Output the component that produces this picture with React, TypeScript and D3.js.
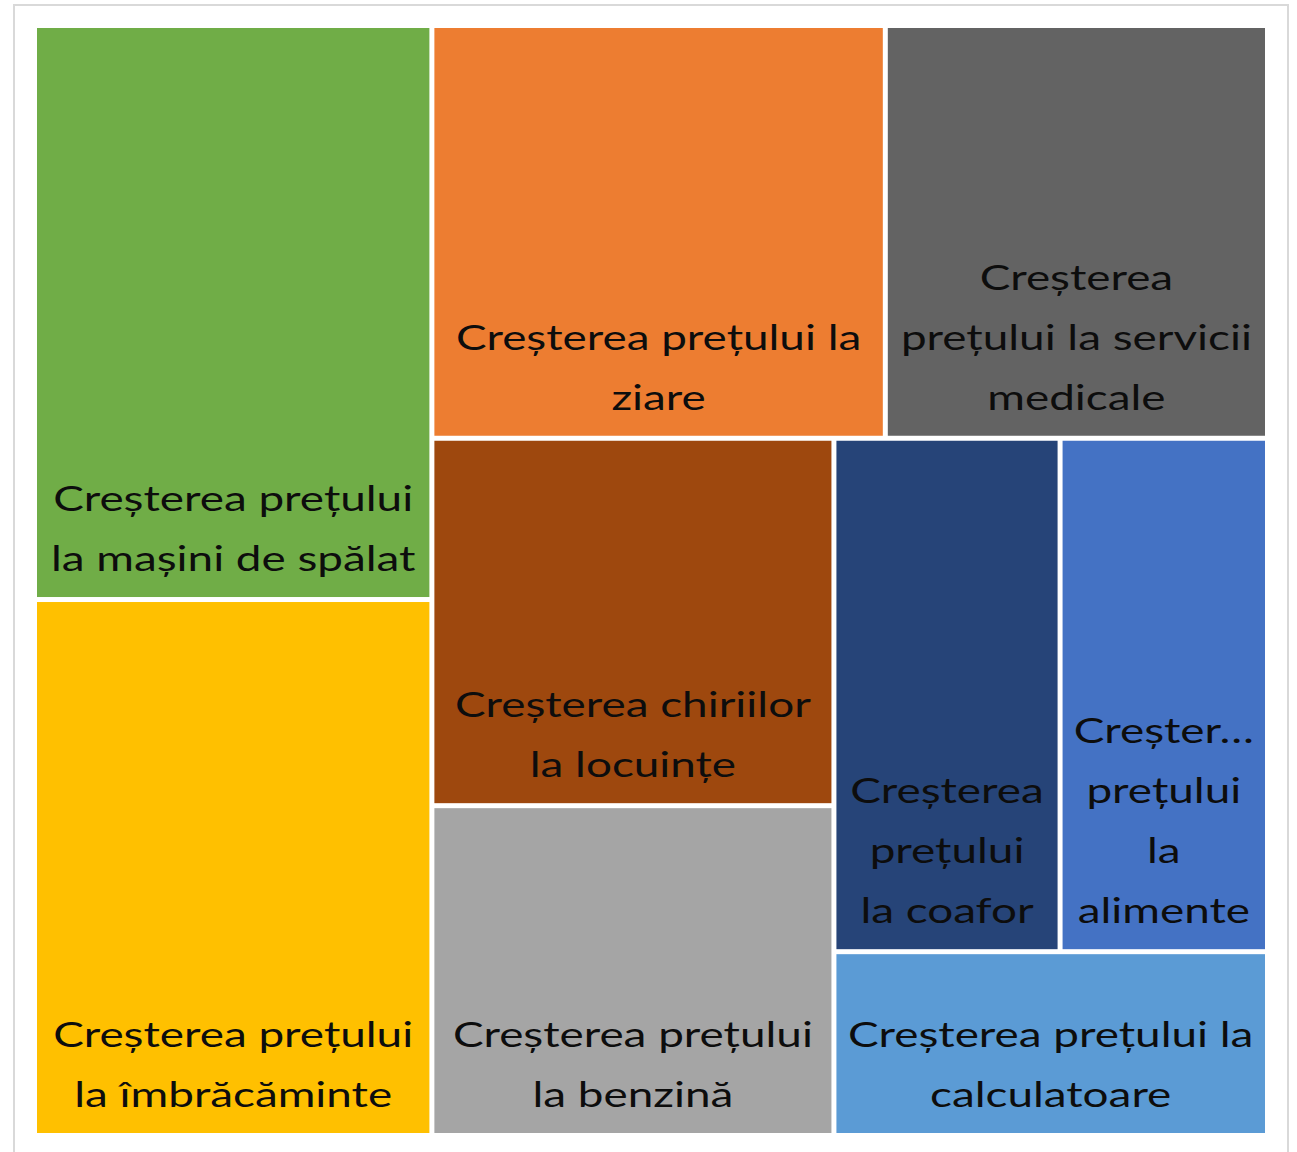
import React, { useMemo } from 'react';
import * as d3 from 'd3';

const categories = [
  'Creșterea prețului la mașini de spălat',
  'Creșterea prețului la îmbrăcăminte',
  'Creșterea prețului la ziare',
  'Creșterea prețului la servicii medicale',
  'Creșterea chiriilor la locuințe',
  'Creșterea prețului la benzină',
  'Creșterea prețului la coafor',
  'Creșterea prețului la alimente',
  'Creșterea prețului la calculatoare',
];
const values = [16.6, 15.5, 13.62, 11.48, 10.75, 9.65, 8.45, 7.75, 5.8];
const colors = [
  '#70AD47', '#FFC000', '#ED7D31', '#636363', '#9E480E',
  '#A5A5A5', '#264478', '#4472C4', '#5B9BD5',
];

const width = 1297;
const height = 1152;
const area = { x: 37, y: 28, w: 1228, h: 1105 };
const fontSize = 35;
const fontFamily = 'Lato';
const stretch = 1.31; // labels in the picture are drawn wide
const lineGap = 60;
const pad = 11.2;
const cutPad = 8;

let ctx: CanvasRenderingContext2D | null = null;
const measure = (s: string) => {
  if (!ctx) {
    ctx = document.createElement('canvas').getContext('2d');
  }
  ctx!.font = `${fontSize}px ${fontFamily}`;
  return ctx!.measureText(s).width * stretch;
};

// greedy word wrap, cut too-long words with an ellipsis
const wrap = (label: string, boxW: number) => {
  const maxW = boxW - 2 * pad;
  const cutW = boxW - 2 * cutPad;
  const lines: string[] = [];
  let cur = '';
  label.split(' ').forEach((w) => {
    let word = w;
    if (measure(word) > maxW) {
      while (word.length > 1 && measure(word + '…') > cutW) word = word.slice(0, -1);
      word = word + '…';
    }
    const test = cur ? cur + ' ' + word : word;
    if (cur && measure(test) > maxW) {
      lines.push(cur);
      cur = word;
    } else {
      cur = test;
    }
  });
  if (cur) lines.push(cur);
  return lines;
};

// strips of two, each laid along the short side of what is left
const pairTile = (parent: any, x0: number, y0: number, x1: number, y1: number) => {
  const nodes = parent.children;
  let remaining = parent.value;
  for (let i = 0; i < nodes.length; i += 2) {
    const row = nodes.slice(i, i + 2);
    const rowValue = d3.sum(row, (d: any) => d.value);
    const part = { children: row, value: rowValue } as any;
    const dx = x1 - x0;
    const dy = y1 - y0;
    const k = remaining ? rowValue / remaining : 0;
    if (dx >= dy) {
      const xm = i + 2 >= nodes.length ? x1 : x0 + dx * k;
      d3.treemapSlice(part, x0, y0, xm, y1);
      x0 = xm;
    } else {
      const ym = i + 2 >= nodes.length ? y1 : y0 + dy * k;
      d3.treemapDice(part, x0, y0, x1, ym);
      y0 = ym;
    }
    remaining -= rowValue;
  }
};

export default function App() {
  const leaves = useMemo(() => {
    const root = d3
      .hierarchy({ children: categories.map((c, i) => ({ name: c, value: values[i], color: colors[i] })) } as any)
      .sum((d: any) => d.value || 0)
      .sort((a, b) => (b.value || 0) - (a.value || 0));
    d3.treemap().tile(pairTile as any).size([area.w, area.h]).paddingInner(5)(root as any);
    return root.leaves() as any[];
  }, []);

  return (
    <svg
      width={width}
      height={height}
      style={{ position: 'absolute', left: 0, top: 0, background: '#fff' }}
    >
      <rect x={14} y={5} width={1274} height={1170} fill="#fff" stroke="#d9d9d9" strokeWidth={2} />
      <g transform={`translate(${area.x},${area.y})`}>
        {leaves.map((d, i) => {
          const w = d.x1 - d.x0;
          const lines = wrap(d.data.name, w);
          const cx = (d.x0 + d.x1) / 2;
          const lastY = d.y1 - 26;
          return (
            <g key={i}>
              <rect x={d.x0} y={d.y0} width={w} height={d.y1 - d.y0} fill={d.data.color} />
              <text
                transform={`translate(${cx},0) scale(${stretch},1)`}
                textAnchor="middle"
                fontFamily={fontFamily}
                fontSize={fontSize}
                fill="#0d0d0d"
              >
                {lines.map((l, j) => (
                  <tspan key={j} x={0} y={lastY - (lines.length - 1 - j) * lineGap}>
                    {l}
                  </tspan>
                ))}
              </text>
            </g>
          );
        })}
      </g>
    </svg>
  );
}
